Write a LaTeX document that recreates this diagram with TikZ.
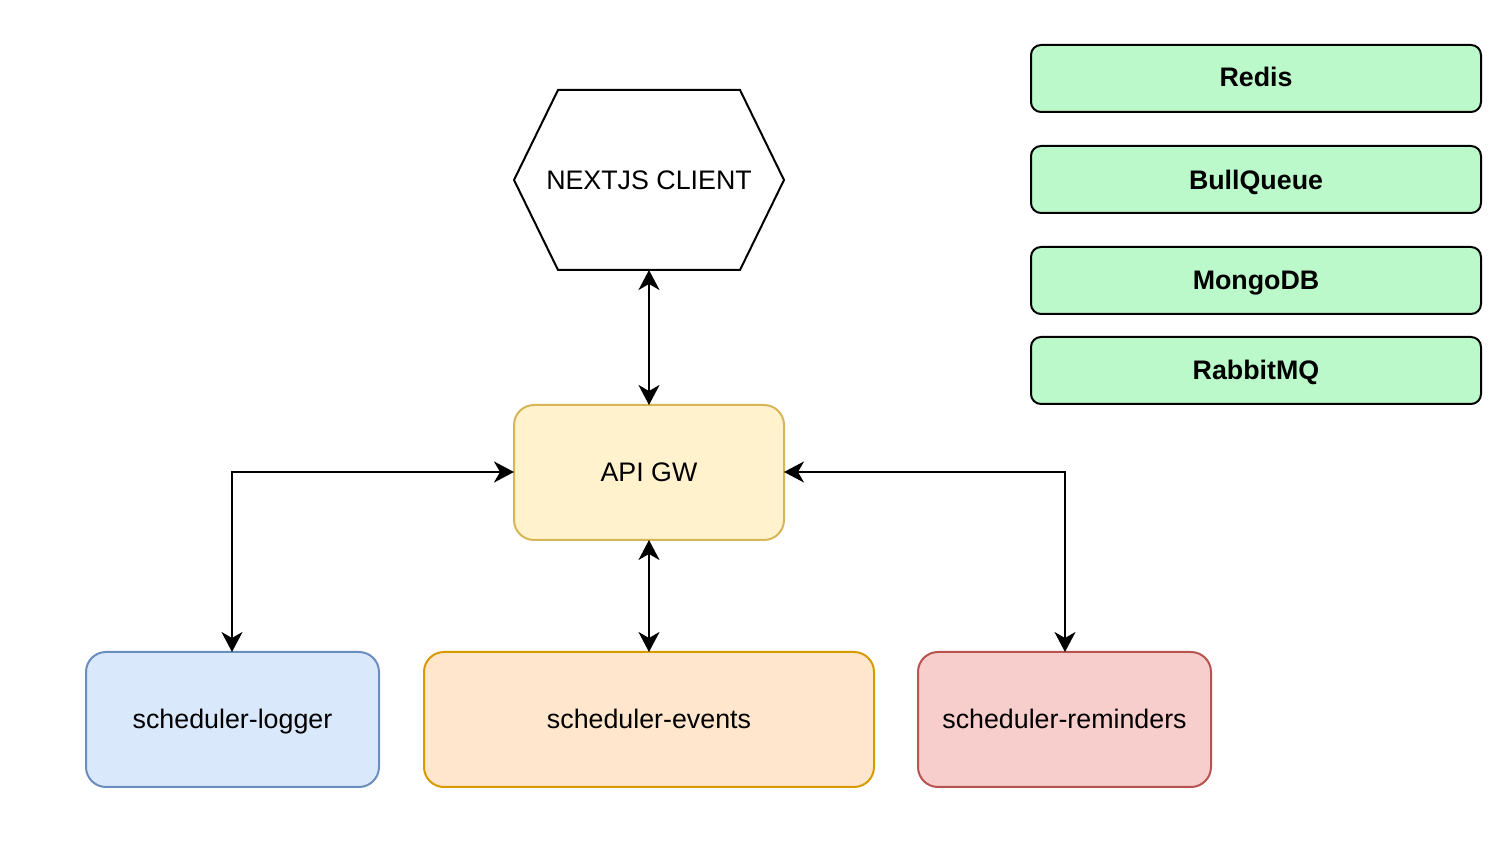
\documentclass[tikz,border=0pt]{standalone}
\usepackage{fontspec}
\setmainfont{Liberation Sans}
\usetikzlibrary{arrows.meta,shapes.geometric}
\definecolor{gfill}{HTML}{BBF9CB}
\definecolor{bfill}{HTML}{DAE8FC}\definecolor{bdraw}{HTML}{6C8EBF}
\definecolor{ofill}{HTML}{FFE6CC}\definecolor{odraw}{HTML}{D79B00}
\definecolor{rfill}{HTML}{F8CECC}\definecolor{rdraw}{HTML}{B85450}
\definecolor{yfill}{HTML}{FFF2CC}\definecolor{ydraw}{HTML}{D6B656}
\tikzset{
  lbl/.style={font=\fontsize{13.4pt}{16pt}\selectfont, anchor=base, inner sep=0pt},
  blbl/.style={font=\fontsize{13.4pt}{16pt}\selectfont\bfseries, anchor=base, inner sep=0pt},
  svc/.style={draw, rounded corners=10pt, line width=1pt},
  store/.style={draw=black, fill=gfill, rounded corners=5pt, line width=1pt},
  conn/.style={line width=1pt, {Stealth[length=10pt,width=10.5pt,inset=3pt]}-{Stealth[length=10pt,width=10.5pt,inset=3pt]}},
}
\begin{document}
\begin{tikzpicture}[x=0.5pt,y=-0.5pt]
\useasboundingbox (0,0) rectangle (1501,865);
% hexagon
\draw[line width=1pt] (514,180) -- (558,90) -- (740,90) -- (784,180) -- (740,270) -- (558,270) -- cycle;
\coordinate (hexb) at (649,270);
\node[lbl] (hex) at (649,190) {NEXTJS CLIENT};
% api
\draw[svc, draw=ydraw, fill=yfill] (514,405) rectangle (784,540);
\node[lbl] (api) at (649,482) {API GW};
\coordinate (apit) at (649,405);
\coordinate (apib) at (649,540);
\coordinate (apil) at (514,472);
\coordinate (apir) at (784,472);
% services
\draw[svc, draw=bdraw, fill=bfill] (86,652) rectangle (379,787);
\node[lbl] (logger) at (232.5,729) {scheduler-logger};
\coordinate (loggert) at (232,652);
\draw[svc, draw=odraw, fill=ofill] (424,652) rectangle (874,787);
\node[lbl] (events) at (649,729) {scheduler-events};
\coordinate (eventst) at (649,652);
\draw[svc, draw=rdraw, fill=rfill] (918,652) rectangle (1211,787);
\node[lbl] (rem) at (1064.5,729) {scheduler-reminders};
\coordinate (remt) at (1065,652);
% stores
\draw[store] (1031,45) rectangle (1481,112);
\node[blbl] (redis) at (1256,87) {Redis};
\draw[store] (1031,146) rectangle (1481,213);
\node[blbl] (bull) at (1256,190) {BullQueue};
\draw[store] (1031,247) rectangle (1481,314);
\node[blbl] (mongo) at (1256,290) {MongoDB};
\draw[store] (1031,337) rectangle (1481,404);
\node[blbl] (rabbit) at (1256,380) {RabbitMQ};
% connectors
\draw[conn] (hexb) -- (apit);
\draw[conn] (apib) -- (eventst);
\draw[conn] (apil) -| (loggert);
\draw[conn] (apir) -| (remt);
\end{tikzpicture}
\end{document}
